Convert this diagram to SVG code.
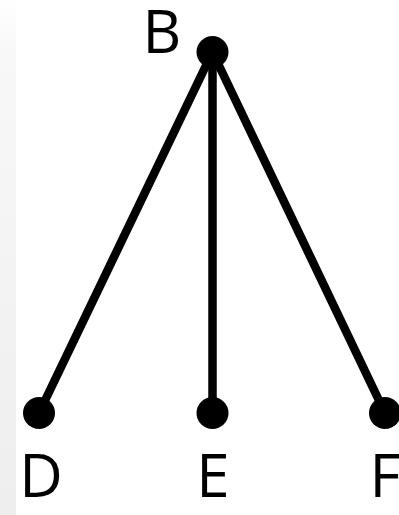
<svg xmlns="http://www.w3.org/2000/svg" width="399" height="515" viewBox="0 0 399 515">
<defs>
<linearGradient id="strip" x1="0" y1="0" x2="0" y2="1">
<stop offset="0" stop-color="#ffffff"/>
<stop offset="0.1" stop-color="#f8f8f8"/>
<stop offset="1" stop-color="#eeeeee"/>
</linearGradient>
<style>
.edge{stroke:#000;stroke-width:8.5;stroke-linecap:round;fill:none}
.dot{fill:#000}
.lbl{font-family:"Open Sans","Noto Sans",sans-serif;font-size:60px;fill:#000;text-anchor:middle}
</style>
</defs>
<rect width="399" height="515" fill="#fff"/>
<rect x="0" y="0" width="16" height="515" fill="url(#strip)"/>
<g id="connectors">
<line class="edge" x1="212.5" y1="52" x2="39" y2="413"/>
<line class="edge" x1="212.5" y1="52" x2="212.5" y2="413"/>
<line class="edge" x1="212.5" y1="52" x2="385" y2="413"/>
</g>
<g id="node-B"><circle class="dot" cx="212.5" cy="52" r="16"/><text class="lbl" x="162" y="53">B</text></g>
<g id="node-D"><circle class="dot" cx="39" cy="413" r="16"/><text class="lbl" x="41" y="497">D</text></g>
<g id="node-E"><circle class="dot" cx="212.5" cy="413" r="16"/><text class="lbl" x="213" y="497">E</text></g>
<g id="node-F"><circle class="dot" cx="385" cy="413" r="16"/><text class="lbl" x="385" y="497">F</text></g>
</svg>
